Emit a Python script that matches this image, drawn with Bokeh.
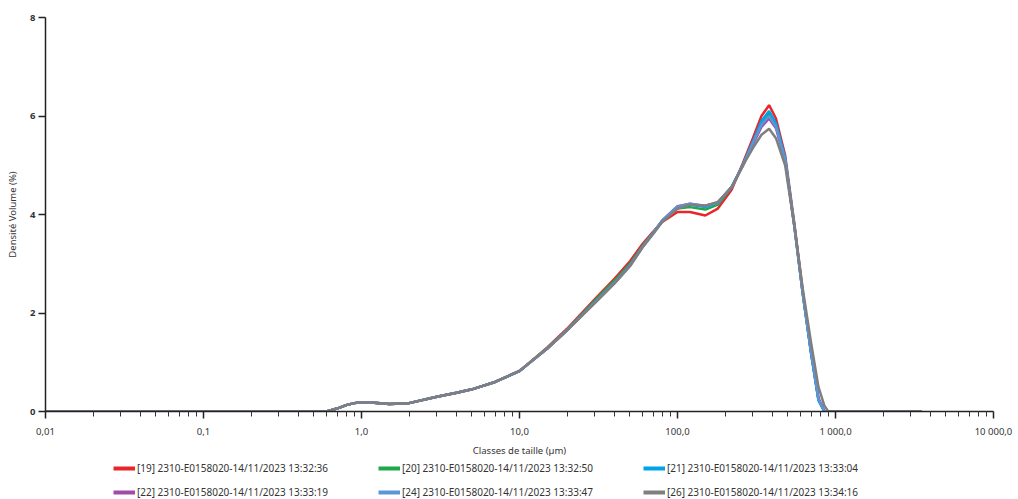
from bokeh.plotting import figure
from bokeh.models import (Legend, LegendItem, FixedTicker, Range1d)
from bokeh.layouts import column
from bokeh.embed import file_html
from bokeh.resources import INLINE

# ---- data ----
sizes = [0.01, 0.6, 0.7, 0.8, 0.9, 1.0, 1.2, 1.5, 2.0, 3.0, 4.0, 5.0, 7.0, 10, 15, 20,
         30, 40, 50, 60, 70, 80, 100, 120, 150, 180, 220, 260, 300, 340, 380, 420,
         480, 550, 620, 700, 780, 850, 900, 1000, 3500]

s19 = [0, 0, 0.06, 0.13, 0.17, 0.19, 0.18, 0.15, 0.17, 0.30, 0.38, 0.45, 0.60, 0.82, 1.30, 1.68,
       2.28, 2.70, 3.05, 3.40, 3.65, 3.85, 4.05, 4.05, 3.98, 4.12, 4.50, 5.05, 5.55, 6.00, 6.22, 5.95,
       5.20, 3.80, 2.45, 1.20, 0.25, 0, 0, 0, 0]
s20 = [0, 0, 0.06, 0.13, 0.17, 0.19, 0.18, 0.15, 0.17, 0.30, 0.38, 0.45, 0.60, 0.82, 1.29, 1.66,
       2.25, 2.66, 3.00, 3.36, 3.63, 3.86, 4.12, 4.15, 4.10, 4.20, 4.55, 5.00, 5.45, 5.85, 6.05, 5.82,
       5.12, 3.75, 2.40, 1.20, 0.25, 0, 0, 0, 0]
s21 = [0, 0, 0.06, 0.13, 0.17, 0.19, 0.18, 0.15, 0.17, 0.30, 0.38, 0.45, 0.60, 0.82, 1.28, 1.65,
       2.22, 2.62, 2.97, 3.34, 3.62, 3.87, 4.15, 4.20, 4.15, 4.23, 4.56, 5.02, 5.48, 5.90, 6.10, 5.85,
       5.15, 3.75, 2.40, 1.18, 0.22, 0, 0, 0, 0]
s22 = [0, 0, 0.06, 0.13, 0.17, 0.19, 0.18, 0.15, 0.17, 0.30, 0.38, 0.45, 0.60, 0.82, 1.28, 1.65,
       2.21, 2.61, 2.96, 3.34, 3.62, 3.88, 4.17, 4.22, 4.18, 4.25, 4.55, 5.00, 5.42, 5.78, 5.95, 5.75,
       5.10, 3.75, 2.42, 1.22, 0.28, 0, 0, 0, 0]
s24 = [0, 0, 0.06, 0.13, 0.17, 0.19, 0.18, 0.15, 0.17, 0.30, 0.38, 0.45, 0.60, 0.82, 1.28, 1.65,
       2.21, 2.61, 2.96, 3.34, 3.62, 3.88, 4.16, 4.22, 4.17, 4.24, 4.56, 5.01, 5.45, 5.82, 6.00, 5.78,
       5.12, 3.75, 2.40, 1.20, 0.25, 0, 0, 0, 0]
s26 = [0, 0, 0.06, 0.13, 0.17, 0.19, 0.18, 0.15, 0.17, 0.30, 0.38, 0.45, 0.60, 0.83, 1.28, 1.65,
       2.20, 2.60, 2.95, 3.33, 3.60, 3.85, 4.12, 4.20, 4.18, 4.25, 4.55, 5.00, 5.35, 5.62, 5.74, 5.55,
       5.00, 3.75, 2.50, 1.40, 0.50, 0.12, 0, 0, 0]

labels = ["[19] 2310-E0158020-14/11/2023 13:32:36",
          "[20] 2310-E0158020-14/11/2023 13:32:50",
          "[21] 2310-E0158020-14/11/2023 13:33:04",
          "[22] 2310-E0158020-14/11/2023 13:33:19",
          "[24] 2310-E0158020-14/11/2023 13:33:47",
          "[26] 2310-E0158020-14/11/2023 13:34:16"]
colors = ["#e8262a", "#1fa84a", "#00a2e8", "#a14aa8", "#5b96d6", "#7f7f7f"]
series = [s19, s20, s21, s22, s24, s26]

x_ticks = [0.01, 0.1, 1, 10, 100, 1000, 10000]
x_tick_labels = ["0,01", "0,1", "1,0", "10,0", "100,0", "1 000,0", "10 000,0"]
y_ticks = [0, 2, 4, 6, 8]

FONT = "Noto Sans"

p = figure(width=1018, height=459, x_axis_type="log", output_backend="svg",
           toolbar_location=None, x_range=Range1d(0.01, 10000), y_range=Range1d(0, 8),
           min_border_left=45, min_border_right=25, min_border_top=17, min_border_bottom=46)
p.outline_line_color = None
p.grid.visible = False
p.background_fill_color = "white"

for s, c in zip(series, colors):
    p.line(sizes, s, line_color=c, line_width=2.5)

minor = [m * d for d in x_ticks[:-1] for m in range(2, 10)]
p.xaxis.ticker = FixedTicker(ticks=x_ticks, minor_ticks=minor)
p.xaxis.major_label_overrides = {t: l for t, l in zip(x_ticks, x_tick_labels)}
p.yaxis.ticker = FixedTicker(ticks=y_ticks)

for ax in (p.xaxis[0], p.yaxis[0]):
    ax.axis_line_color = "#222222"
    ax.axis_line_width = 1.5
    ax.major_tick_line_color = "#222222"
    ax.major_tick_line_width = 1.5
    ax.minor_tick_line_color = "#333333"
    ax.major_tick_in = 0
    ax.minor_tick_in = 0
    ax.major_label_text_font = FONT
    ax.major_label_text_font_size = "9.5px"
    ax.major_label_text_color = "#333333"
    ax.axis_label_text_font = FONT
    ax.axis_label_text_font_size = "9.5px"
    ax.axis_label_text_font_style = "normal"
    ax.axis_label_text_color = "#333333"

p.xaxis.major_tick_out = 7
p.xaxis.minor_tick_out = 5
p.xaxis.major_label_standoff = 6
p.xaxis.axis_label = "Classes de taille (µm)"
p.xaxis.axis_label_standoff = 3
p.yaxis.major_tick_out = 7
p.yaxis.minor_tick_line_color = None
p.yaxis.major_label_standoff = 3
p.yaxis.major_label_text_font_style = "bold"
p.yaxis.axis_label = "Densité Volume (%)"
p.yaxis.axis_label_standoff = 8

# legend strip below the chart (its lines lie outside its visible range; only the legend shows)
lp = figure(width=1018, height=40, output_backend="svg", toolbar_location=None,
            x_axis_location=None, y_axis_location=None,
            x_range=Range1d(-20, -10), y_range=Range1d(-20, -10),
            min_border=0, min_border_left=0, min_border_right=0,
            min_border_top=0, min_border_bottom=0)
lp.grid.visible = False
lp.outline_line_color = None
leg_renderers = [lp.line(sizes, s, line_color=c, line_width=4) for s, c in zip(series, colors)]

items = [LegendItem(label=labels[i], renderers=[leg_renderers[i]]) for i in range(6)]
leg = Legend(items=items, orientation="horizontal", ncols=3, location=(68, 0),
             label_text_font=FONT, label_text_font_size="10px",
             label_text_color="#333333", glyph_width=22, glyph_height=12,
             label_standoff=2, label_width=231, spacing=10, padding=0, margin=0,
             border_line_color=None, background_fill_alpha=0,
             label_height=12)
lp.add_layout(leg, "center")

open("out.html", "w").write(file_html(column(p, lp, spacing=0), INLINE))
